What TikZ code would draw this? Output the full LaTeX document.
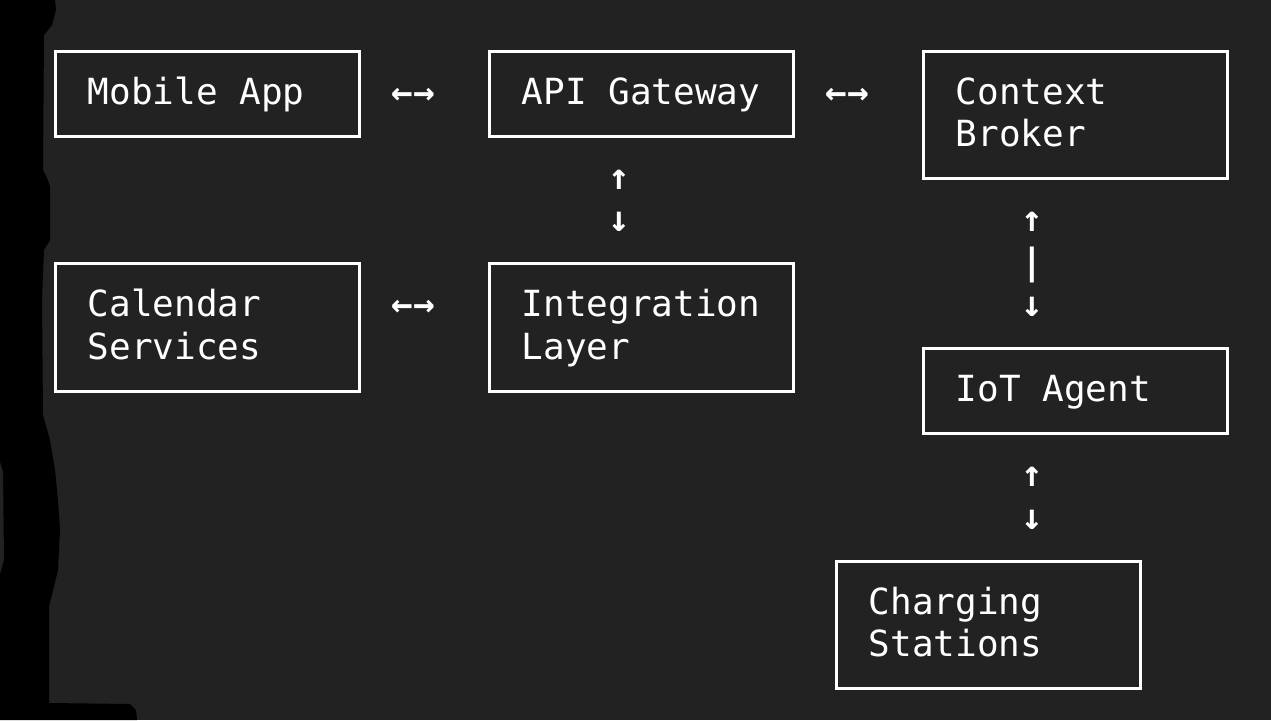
\documentclass[tikz,border=0pt]{standalone}
\usepackage{fontspec}
\newfontfamily\termfont{DejaVu Sans Mono}
\newfontfamily\termbold{DejaVu Sans Mono Bold}
\usepackage{tikz}
\usetikzlibrary{calc,positioning}
\definecolor{termbg}{HTML}{222222}
\tikzset{
  box/.style={draw=white, line width=3pt, anchor=north west, minimum width=304pt, inner sep=0pt, outer sep=0pt},
  onebox/.style={box, minimum height=85pt},
  twobox/.style={box, minimum height=127.5pt},
  txt/.style={text=white, font=\termfont\fontsize{36}{42.5}\selectfont, align=left, anchor=base west, inner sep=0pt},
  link/.style={txt, font=\termbold\fontsize{36}{42.5}\selectfont}
}

\begin{document}
\begin{tikzpicture}[x=1pt, y=-1pt]
\fill[termbg] (0,0) rectangle (1271,720);
\useasboundingbox (0,0) rectangle (1271,720);
% the dark edge on the left
\fill[black] (0,0) -- (55,0) -- (56,10) -- (52,25) -- (44,35) -- (43,170) -- (47,178) -- (50,186)
  -- (50,240) -- (44,250) -- (42,300) -- (43,415) -- (50,440) -- (55,470) -- (58,500) -- (60,530)
  -- (58,570) -- (52,595) -- (49,606) -- (49,703) -- (130,704) -- (136,710) -- (137,720) -- (0,720) -- cycle;
\fill[termbg] (0,462) -- (3,472) -- (4,560) -- (0,574) -- cycle;

% boxes
\node[onebox] (mobile) at (55,51) {};
\node[onebox] (api) at (489,51) {};
\node[twobox] (broker) at (923,51) {};
\node[twobox] (calendar) at (55,263.5) {};
\node[twobox] (integration) at (489,263.5) {};
\node[onebox] (iot) at (923,348.5) {};
\node[twobox] (charging) at (836,561) {};

% labels (base = last line)
\node[txt] (mobile-t) at ($(mobile.north west)+(32.5,53)$) {Mobile App};
\node[txt] (api-t) at ($(api.north west)+(32.5,53)$) {API Gateway};
\node[txt] (broker-t) at ($(broker.north west)+(32.5,95.5)$) {Context\\Broker};
\node[txt] (calendar-t) at ($(calendar.north west)+(32.5,95.5)$) {Calendar\\Services};
\node[txt] (integration-t) at ($(integration.north west)+(32.5,95.5)$) {Integration\\Layer};
\node[txt] (iot-t) at ($(iot.north west)+(32.5,53)$) {IoT Agent};
\node[txt] (charging-t) at ($(charging.north west)+(32.5,95.5)$) {Charging\\Stations};

% links
\node[link] (mobile-api) at ($(mobile.north east)+(32.5,53)$) {←→};
\node[link] (api-broker) at ($(api.north east)+(32.5,53)$) {←→};
\node[link] (calendar-integration) at ($(calendar.north east)+(32.5,53)$) {←→};
\node[link] (api-integration) at ($(api.south west)+(119.4,95.5)$) {↑\\↓};
\node[link] (broker-iot) at ($(broker.south west)+(97.8,138)$) {↑\\|\\↓};
\node[link] (iot-charging) at ($(iot.south west)+(97.8,95.5)$) {↑\\↓};
\end{tikzpicture}
\end{document}
